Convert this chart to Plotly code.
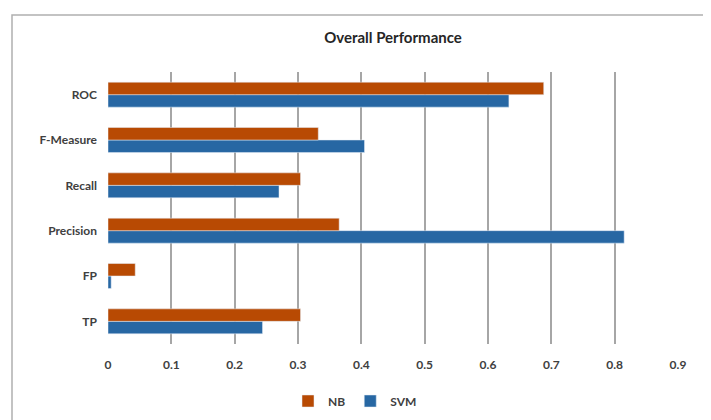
import plotly.graph_objects as go

categories = ["TP", "FP", "Precision", "Recall", "F-Measure", "ROC"]
nb_values = [0.304, 0.043, 0.365, 0.304, 0.332, 0.688]
svm_values = [0.244, 0.005, 0.815, 0.270, 0.405, 0.633]
x_ticks = [0, 0.1, 0.2, 0.3, 0.4, 0.5, 0.6, 0.7, 0.8, 0.9]
x_tick_labels = ["0", "0.1", "0.2", "0.3", "0.4", "0.5", "0.6", "0.7", "0.8", "0.9"]

NB_COLOR = "#B84A03"
SVM_COLOR = "#2767A3"
FONT = "Lato"

fig = go.Figure()
fig.add_trace(go.Bar(y=categories, x=svm_values, name="SVM", orientation="h",
                     marker=dict(color=SVM_COLOR), legendrank=2))
fig.add_trace(go.Bar(y=categories, x=nb_values, name="NB", orientation="h",
                     marker=dict(color=NB_COLOR), legendrank=1))

# page body has an 8px margin; work in screen coordinates and convert
OFF = 8
W, H = 711, 420
L, R, T, B = 108 - OFF, W - (678 - OFF), 72 - OFF, H - (344 - OFF)
pw, ph = W - L - R, H - T - B

def px_x(x):
    return (x - OFF - L) / pw

def px_y(y):
    return (H - B - (y - OFF)) / ph

fig.update_layout(
    width=W, height=H,
    margin=dict(l=L, r=R, t=T, b=B),
    paper_bgcolor="white", plot_bgcolor="white",
    barmode="group", bargap=0.45, bargroupgap=0,
    font=dict(family=FONT, color="#404040"),
    title=dict(text="Overall Performance", x=0.5, xanchor="center", xref="paper",
               y=1 - (38 - OFF) / H, yanchor="middle",
               font=dict(family=FONT, size=15, color="#262626", weight="bold")),
    xaxis=dict(range=[0, 0.9], tickvals=x_ticks, ticktext=x_tick_labels,
               showgrid=True, gridcolor="#A6A6A6", gridwidth=1.8,
               zeroline=False, showline=False, ticks="",
               ticklabelstandoff=12,
               tickfont=dict(family=FONT, size=12, color="#404040", weight="bold"),
               fixedrange=True),
    yaxis=dict(categoryorder="array", categoryarray=categories,
               showgrid=False, zeroline=False, showline=False, ticks="",
               ticklabelstandoff=10,
               tickfont=dict(family=FONT, size=12, color="#404040", weight="bold"),
               fixedrange=True),
    legend=dict(orientation="h", x=px_x(355), xanchor="center",
                y=px_y(401), yanchor="middle",
                font=dict(family=FONT, size=12, color="#404040", weight="bold"),
                itemwidth=30, traceorder="normal"),
    shapes=[dict(type="rect", xref="paper", yref="paper",
                 x0=px_x(12), x1=px_x(709), y0=px_y(440), y1=px_y(15),
                 line=dict(color="#B0B0B0", width=1.5), layer="below")],
)

fig.write_html("out.html")
